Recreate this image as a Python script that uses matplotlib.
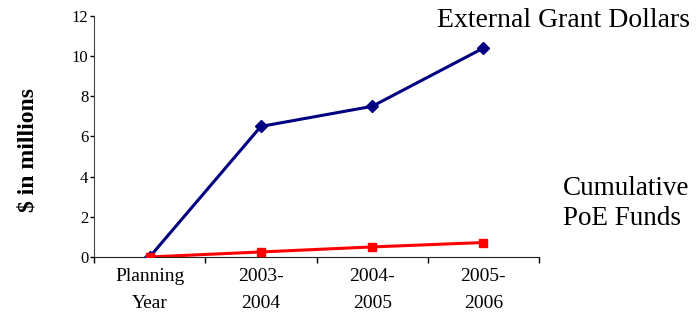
import numpy as np
import matplotlib.pyplot as plt

categories = ['Planning\nYear', '2003-\n2004', '2004-\n2005', '2005-\n2006']
grant = [0, 6.5, 7.5, 10.4]
poe = [0, 0.25, 0.5, 0.72]

fig = plt.figure(figsize=(6.98, 3.13), dpi=100)
ax = fig.add_axes([0.1347, 0.179, 0.6375, 0.770])

x = np.arange(len(categories)) + 0.5
ax.plot(x, grant, color='#000080', lw=2.2, marker='D', ms=6, zorder=3)
ax.plot(x, poe, color='#ff0000', lw=2.2, marker='s', ms=6, zorder=4)

ax.set_xlim(0, 4)
ax.set_ylim(0, 12)
ax.set_xticks(np.arange(5))
ax.set_xticklabels([])
ax.set_xticks(x, minor=True)
ax.set_xticklabels(categories, minor=True, fontfamily='Liberation Serif',
                   fontsize=14, linespacing=1.75)
ax.tick_params(axis='x', which='major', direction='out', length=4, width=1)
ax.tick_params(axis='x', which='minor', length=0, pad=8)
ax.set_yticks(np.arange(0, 13, 2))
ax.set_yticklabels([str(v) for v in range(0, 13, 2)],
                   fontfamily='Liberation Serif', fontsize=12)
ax.tick_params(axis='y', direction='out', length=3, width=1, pad=1)

for s in ['top', 'right']:
    ax.spines[s].set_visible(False)
ax.spines['left'].set_color('#444444')
ax.spines['bottom'].set_color('#222222')

fig.text(28 / 698, 1 - 150 / 313, '$ in millions', fontfamily='Liberation Serif',
         fontweight='bold', fontsize=17, rotation=90, va='center', ha='center')

fig.text(0.626, 0.935, 'External Grant Dollars', fontfamily='Liberation Serif',
         fontsize=20, va='center', ha='left')
fig.text(0.806, 0.35, 'Cumulative\nPoE Funds', fontfamily='Liberation Serif',
         fontsize=19.5, va='center', ha='left', linespacing=1.25)

plt.savefig('out.png', dpi=100)
